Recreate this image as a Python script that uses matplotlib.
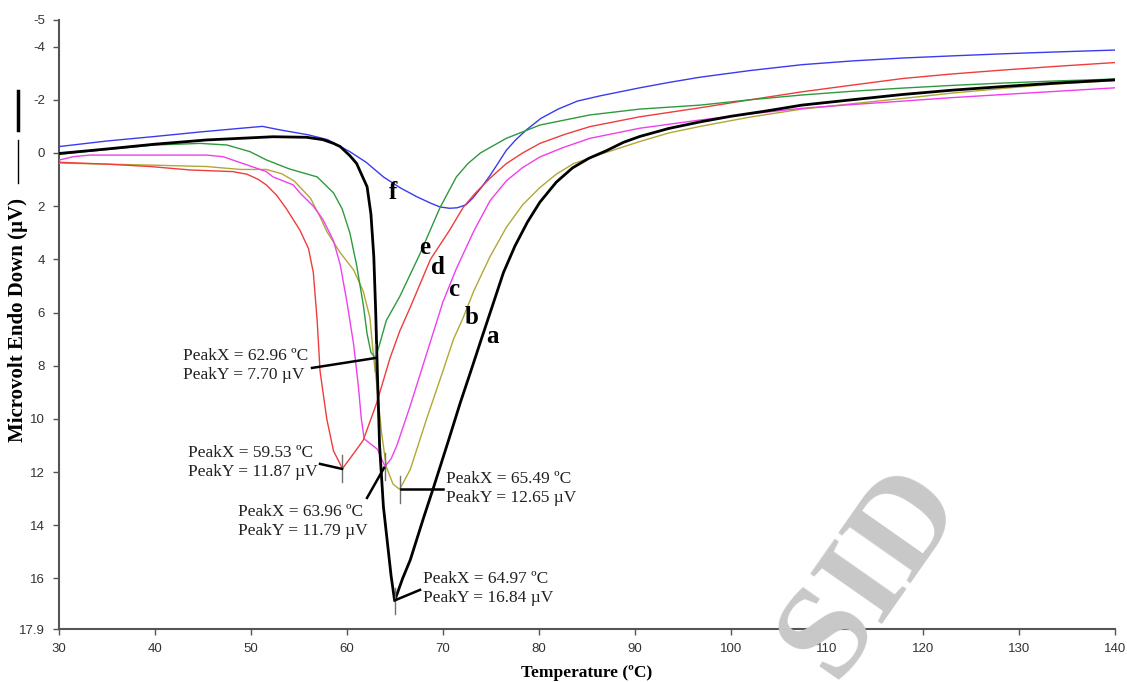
import matplotlib
matplotlib.use("Agg")
import matplotlib.pyplot as plt
from matplotlib.lines import Line2D

# temperature (deg C) / heat flow (uV)
t_a = [30, 35, 40, 45.4, 50, 52.3, 55.8, 57.5, 58.6, 59.3, 60.3, 61.0, 62.1, 62.5, 62.8, 63.0, 63.15,
       63.4, 63.8, 64.2, 64.6, 64.97, 65.8, 66.6, 68.0, 69.0, 70.5, 71.8, 73.0, 74.0, 75.2, 76.3,
       77.5, 78.8, 80.1, 81.8, 83.5, 85.2, 87.0, 88.8, 90.5, 93.5, 96.8, 100, 103.7, 107.4, 112.6,
       117.9, 123, 128.4, 134, 140]
v_a = [0.02, -0.15, -0.33, -0.49, -0.57, -0.61, -0.59, -0.5, -0.36, -0.24, 0.1, 0.39, 1.27, 2.3, 3.9,
       6.0, 8.0, 11.0, 13.3, 14.6, 15.9, 16.84, 16.0, 15.3, 13.7, 12.6, 10.9, 9.4, 8.1, 7.0, 5.7, 4.5,
       3.5, 2.6, 1.85, 1.1, 0.56, 0.2, -0.08, -0.4, -0.62, -0.92, -1.17, -1.38, -1.58, -1.8, -2.0,
       -2.2, -2.36, -2.5, -2.63, -2.75]

t_b = [30, 35, 40, 45.4, 48.9, 51.6, 53.2, 54.5, 56.2, 57.2, 57.9, 59.3, 60.7, 61.7, 62.4, 62.7,
       63.1, 63.6, 64.1, 64.8, 65.49, 66.6, 68.3, 70.0, 71.1, 72.1, 73.2, 74.9, 76.6, 78.3, 80.1,
       81.8, 83.6, 86.4, 90.5, 93.5, 96.8, 102, 107.4, 112.6, 117.9, 123, 128.4, 134, 140]
v_b = [0.38, 0.42, 0.46, 0.51, 0.62, 0.62, 0.78, 1.05, 1.7, 2.4, 2.95, 3.75, 4.4, 5.2, 6.2, 7.4,
       8.7, 10.5, 11.8, 12.45, 12.65, 11.9, 10.0, 8.2, 7.0, 6.2, 5.2, 3.9, 2.8, 1.95, 1.3,
       0.8, 0.4, 0.05, -0.43, -0.75, -1.0, -1.35, -1.65, -1.85, -2.05, -2.25, -2.43, -2.6, -2.72]

t_c = [30, 31.5, 33.2, 38.4, 45.4, 47.1, 49.6, 51.6, 52.3, 54.4, 55.1, 56.5, 57.5, 58.6, 59.3,
       60.0, 60.7, 61.2, 61.5, 61.8, 62.5, 63.2, 63.96, 64.6, 65.2, 66.6, 68.3, 70.0, 71.4, 73.2,
       74.9, 76.6, 78.3, 80.1, 82.5, 85.3, 90.5, 96.8, 102, 107.4, 112.6, 117.9, 123, 128.4, 134, 140]
v_c = [0.27, 0.14, 0.08, 0.08, 0.08, 0.14, 0.45, 0.7, 0.9, 1.2, 1.5, 2.0, 2.5, 3.3, 4.2,
       5.6, 7.2, 8.8, 10.0, 10.75, 10.95, 11.15, 11.79, 11.5, 11.0, 9.5, 7.55, 5.6, 4.35, 2.95,
       1.8, 1.05, 0.55, 0.15, -0.2, -0.55, -0.93, -1.24, -1.47, -1.68, -1.82, -1.95, -2.08, -2.2, -2.32, -2.45]

t_d = [30, 35, 39.5, 43.7, 48.1, 49.6, 50.8, 51.6, 52.7, 53.7, 55.1, 56.0, 56.5, 56.9, 57.2, 57.9,
       58.6, 59.53, 60.7, 61.7, 63.1, 64.5, 65.5, 66.6, 68.7, 70.7, 72.1, 73.4, 74.9, 76.6, 78.3,
       80.1, 82.7, 85.3, 90.5, 96.8, 102, 107.4, 112.6, 117.9, 123, 128.4, 134, 140]
v_d = [0.35, 0.42, 0.51, 0.64, 0.7, 0.8, 1.0, 1.2, 1.6, 2.1, 2.9, 3.6, 4.5, 6.3, 8.2, 10.0,
       11.2, 11.87, 11.3, 10.8, 9.4, 7.7, 6.7, 5.8, 4.0, 2.9, 2.05, 1.5, 0.95, 0.4, 0.0,
       -0.36, -0.7, -0.99, -1.36, -1.7, -2.0, -2.3, -2.55, -2.8, -2.97, -3.12, -3.26, -3.4]

t_e = [30, 35, 40, 44.7, 47.5, 49.9, 51.6, 54.0, 56.9, 58.6, 59.5, 60.3, 61.0, 61.7, 62.1, 62.5,
       62.96, 63.4, 64.1, 65.5, 67.6, 69.7, 71.4, 72.6, 73.9, 76.6, 80.1, 85.3, 90.5, 96.8, 102,
       107.4, 112.6, 117.9, 123, 128.4, 134, 140]
v_e = [0.05, -0.13, -0.3, -0.36, -0.3, -0.05, 0.26, 0.6, 0.9, 1.5, 2.1, 3.0, 4.2, 5.7, 6.8, 7.5,
       7.7, 7.2, 6.3, 5.4, 3.8, 2.05, 0.9, 0.4, 0.0, -0.55, -1.05, -1.43, -1.65, -1.8, -2.0,
       -2.18, -2.32, -2.44, -2.54, -2.63, -2.71, -2.78]

t_f = [30, 35, 40, 45, 49, 51.2, 53, 56, 58, 60.3, 62, 63.8, 65.5, 67.3, 68.8, 69.7, 70.7, 71.5,
       72.4, 73.1, 74.0, 74.9, 75.8, 76.6, 77.6, 78.7, 80.2, 82, 84, 86.4, 90.5, 93.5, 96.8, 102,
       107.4, 112.6, 117.9, 123, 128.4, 134, 140]
v_f = [-0.24, -0.45, -0.62, -0.8, -0.93, -1.0, -0.87, -0.68, -0.5, -0.05, 0.35, 0.9, 1.3, 1.65,
       1.9, 2.03, 2.08, 2.06, 1.95, 1.7, 1.3, 0.85, 0.35, -0.1, -0.5, -0.87, -1.3, -1.65, -1.95,
       -2.15, -2.45, -2.65, -2.85, -3.1, -3.32, -3.46, -3.57, -3.65, -3.73, -3.8, -3.87]

series_names = ["a", "b", "c", "d", "e", "f"]
series_colors = ["#000000", "#b0a834", "#f03ef0", "#f03c3c", "#2e9a3e", "#3a3af0"]

# peak annotations
peaks_x = [62.96, 59.53, 63.96, 65.49, 64.97]
peaks_y = [7.70, 11.87, 11.79, 12.65, 16.84]
# curve letter label positions
letter_x = [75.2, 73.0, 71.1, 69.5, 68.1, 64.8]
letter_y = [6.92, 6.17, 5.15, 4.32, 3.57, 1.47]

y_ticks = [-5, -4, -2, 0, 2, 4, 6, 8, 10, 12, 14, 16, 17.9]
y_ticklabels = ["-5", "-4", "-2", "0", "2", "4", "6", "8", "10", "12", "14", "16", "17.9"]
x_ticks = list(range(30, 141, 10))

W, H = 1127, 682
fig = plt.figure(figsize=(W / 100, H / 100), dpi=100)
ax = fig.add_axes([58.9 / W, 1 - 629 / H, (1115 - 58.9) / W, (629 - 20) / H])

curves = [(t_a, v_a), (t_b, v_b), (t_c, v_c), (t_d, v_d), (t_e, v_e), (t_f, v_f)]
order = [5, 1, 2, 3, 4, 0]
for i in order:
    t, v = curves[i]
    ax.plot(t, v, color=series_colors[i], lw=2.0 if i == 0 else 1.0, zorder=3 + (i == 0))

serif = ["Liberation Serif", "DejaVu Serif"]

# peak tick marks
for px, py in zip(peaks_x, peaks_y):
    ax.plot([px, px], [py - 0.5, py + 0.5], color="#707070", lw=1.0, zorder=5)


# leader lines and text boxes are placed in pixel space, converted to data
def px2t(x):
    return 30 + (x - 58.9) / 9.6


def py2v(y):
    return (y - 153) / 26.6


leaders = [((312, 368), (376, 358)), ((320, 464), (342, 469)), ((367, 498), (384, 468)),
           ((443, 489), (401, 489)), ((420, 590), (396, 600))]
text_pos = [(183, 366), (188, 463), (238, 522), (446, 489), (423, 589)]
for k in range(len(peaks_x)):
    (x0, y0), (x1, y1) = leaders[k]
    ax.plot([px2t(x0), px2t(x1)], [py2v(y0), py2v(y1)], color="black", lw=1.8, zorder=6)
    label = "PeakX = %.2f \u00baC\nPeakY = %.2f \u00b5V" % (peaks_x[k], peaks_y[k])
    tx, ty = text_pos[k]
    ax.text(px2t(tx), py2v(ty), label, ha="left", va="center", family=serif,
            fontsize=12.5, linespacing=1.25, color="#222222", zorder=7)

for name, lx, ly in zip(series_names, letter_x, letter_y):
    ax.text(lx, ly, name, ha="center", va="center", family=serif, fontweight="bold",
            fontsize=18, color="black", zorder=7)

ax.set_xlim(30, 140)
ax.set_ylim(17.9, -5)
ax.set_xticks(x_ticks)
ax.set_yticks(y_ticks)
ax.set_yticklabels(y_ticklabels)
for s in ["top", "right"]:
    ax.spines[s].set_visible(False)
for s in ["left", "bottom"]:
    ax.spines[s].set_color("#555555")
    ax.spines[s].set_linewidth(1.5)
ax.tick_params(axis="both", direction="out", length=4, width=1, color="#555555",
               labelsize=9.5, labelcolor="#333333", pad=6)
for lab in ax.get_xticklabels() + ax.get_yticklabels():
    lab.set_family(["Liberation Sans Narrow", "Liberation Sans"])

ax.set_xlabel("Temperature (\u00baC)", family=serif, fontweight="bold", fontsize=12.5, labelpad=7)

# y label with its legend-like line marks
fig.text(18 / W, 1 - 320 / H, "Microvolt Endo Down (\u00b5V)", rotation=90, ha="center",
         va="center", family=serif, fontweight="bold", fontsize=15)
fig.add_artist(Line2D([18 / W, 18 / W], [1 - 183 / H, 1 - 140 / H], color="black", lw=1.0,
                      transform=fig.transFigure))
fig.add_artist(Line2D([18 / W, 18 / W], [1 - 130 / H, 1 - 91 / H], color="black", lw=2.5,
                      transform=fig.transFigure))

# watermark
fig.text(872 / W, 1 - 572 / H, "SID", rotation=55, ha="center", va="center", family=serif,
         fontweight="bold", fontsize=96, color="#c8c8c8", zorder=0)

fig.savefig("out.png", dpi=100)
